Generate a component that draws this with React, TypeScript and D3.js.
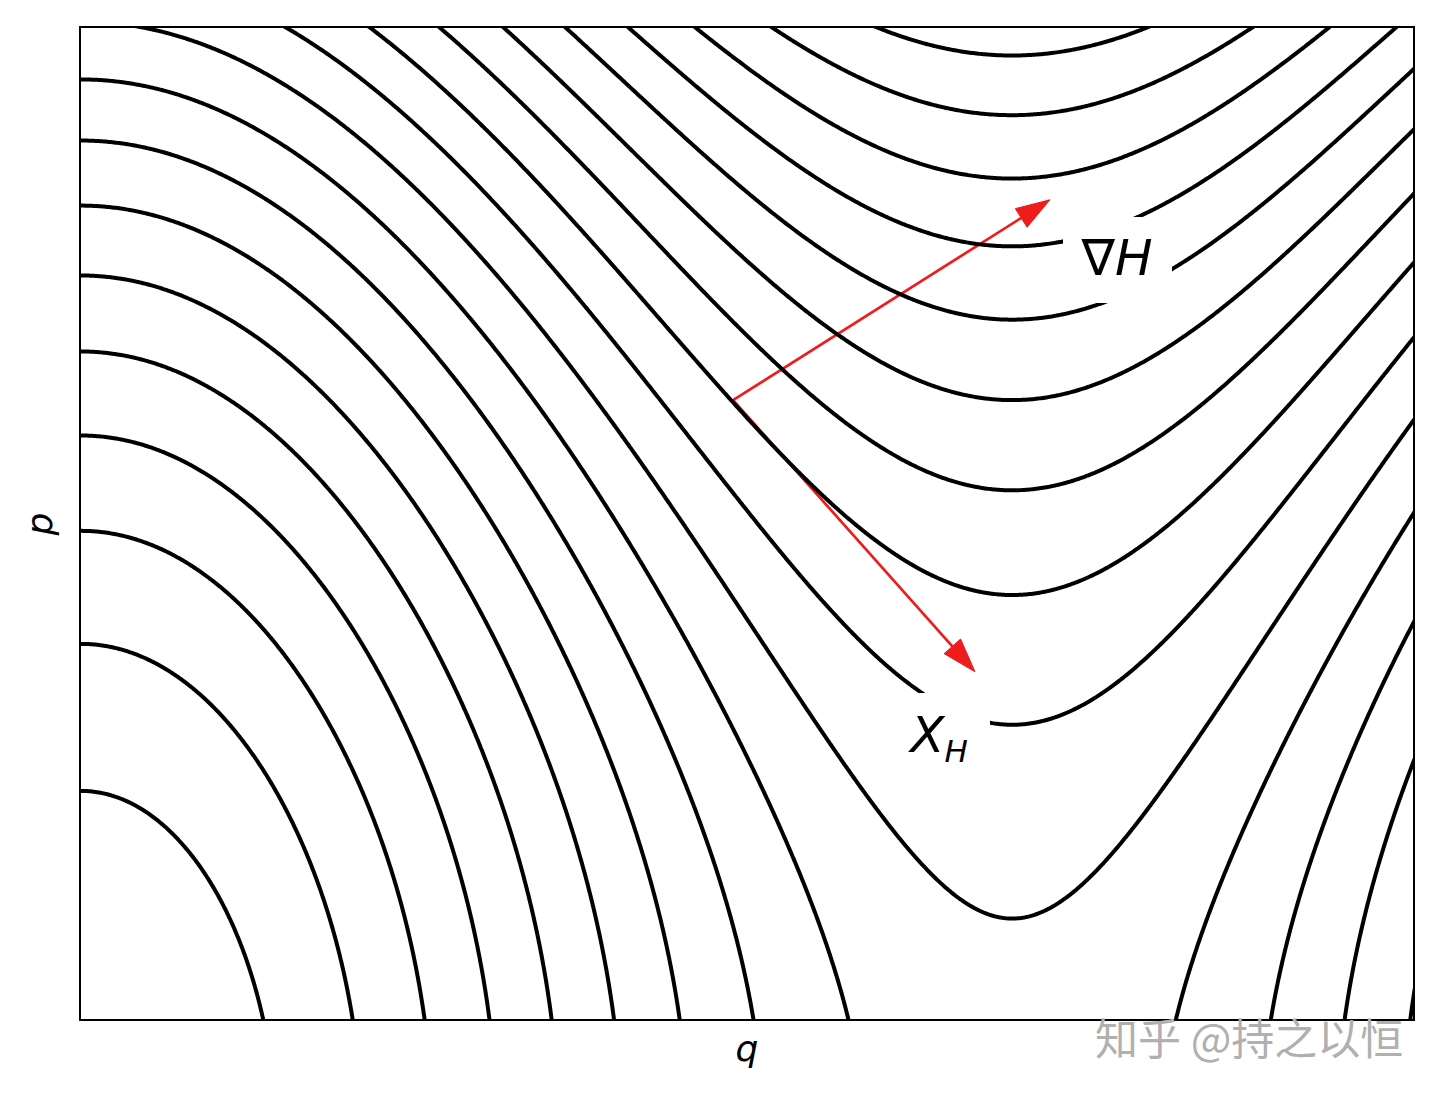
import React, { useMemo } from 'react';
import * as d3 from 'd3';

// Phase-space window (q horizontal, p vertical)
const qDomain = [0, 4.5];
const pDomain = [0.233, 2.032];

// Contour levels of the Hamiltonian H(q, p) = p^2/2 - cos(q)
const levels = [
  -0.789, -0.5805, -0.372, -0.1635, 0.045, 0.2535, 0.462, 0.6705, 0.879,
  1.0875, 1.296, 1.5045, 1.713, 1.9215, 2.13, 2.3385, 2.547, 2.7555, 2.964,
];

// Red vectors (data coordinates): common base point and the two tips
const arrowBase = [2.203, 1.356];
const arrowTips = [
  [3.272, 1.719], // grad H
  [3.019, 0.864], // X_H
];

// Text labels
const axisLabels = ['q', 'p'];
const watermark = '知乎 @持之以恒';

const W = 1440;
const H = 1100;
const plot = { left: 80, right: 1414, top: 27, bottom: 1020 };

const hamiltonian = (q: number, p: number) => (p * p) / 2 - Math.cos(q);

export default function App() {
  const x = d3.scaleLinear().domain(qDomain).range([plot.left, plot.right]);
  const y = d3.scaleLinear().domain(pDomain).range([plot.bottom, plot.top]);

  const paths = useMemo(() => {
    const nx = 820;
    const ny = 620;
    const qLo = qDomain[0] - 0.1;
    const qHi = qDomain[1] + 0.1;
    const pLo = pDomain[0] - 0.06;
    const pHi = pDomain[1] + 0.06;
    const values = new Float64Array(nx * ny);
    for (let j = 0; j < ny; j++) {
      const p = pHi - (j * (pHi - pLo)) / (ny - 1);
      for (let i = 0; i < nx; i++) {
        const q = qLo + (i * (qHi - qLo)) / (nx - 1);
        values[j * nx + i] = hamiltonian(q, p);
      }
    }
    const cs = d3.contours().size([nx, ny]).thresholds(levels)(values as any);
    const proj = d3.geoTransform({
      point(cx: number, cy: number) {
        const q = qLo + (cx * (qHi - qLo)) / (nx - 1);
        const p = pHi - (cy * (pHi - pLo)) / (ny - 1);
        (this as any).stream.point(x(q), y(p));
      },
    });
    const gp = d3.geoPath(proj);
    return cs.map((c) => gp(c as any) || '');
  }, []);

  const bx = x(arrowBase[0]);
  const by = y(arrowBase[1]);
  const headLen = 34;
  const headHalf = 11;

  const arrowEls = arrowTips.map((t, i) => {
    const tx = x(t[0]);
    const ty = y(t[1]);
    const dx = tx - bx;
    const dy = ty - by;
    const len = Math.hypot(dx, dy);
    const ux = dx / len;
    const uy = dy / len;
    const hx = tx - ux * headLen;
    const hy = ty - uy * headLen;
    const px = -uy * headHalf;
    const py = ux * headHalf;
    return (
      <g key={i}>
        <line x1={bx} y1={by} x2={hx + ux * 2} y2={hy + uy * 2} stroke="#ee1c1c" strokeWidth={2.7} />
        <polygon
          points={`${tx},${ty} ${hx + px},${hy + py} ${hx - px},${hy - py}`}
          fill="#ee1c1c"
          stroke="#ee1c1c"
          strokeWidth={1}
          strokeLinejoin="miter"
        />
      </g>
    );
  });

  return (
    <svg
      width={W}
      height={H}
      style={{ position: 'absolute', left: 0, top: 0, display: 'block', background: '#fff' }}
    >
      <defs>
        <clipPath id="plotClip">
          <rect x={plot.left} y={plot.top} width={plot.right - plot.left} height={plot.bottom - plot.top} />
        </clipPath>
      </defs>
      <rect x={0} y={0} width={W} height={H} fill="#fff" />
      <g clipPath="url(#plotClip)">
        {arrowEls}
        {paths.map((d, i) => (
          <path key={i} d={d} fill="none" stroke="#000" strokeWidth={4} strokeLinejoin="round" />
        ))}
        {/* label boxes (white background behind the labels) */}
        <rect x={1063} y={217} width={109} height={86} fill="#fff" />
        <rect x={888} y={693} width={102} height={90} fill="#fff" />
      </g>
      <text x={1117} y={275} textAnchor="middle" fontFamily="DejaVu Sans" fontSize={50} fill="#000">
        <tspan>∇</tspan>
        <tspan fontStyle="italic">H</tspan>
      </text>
      <text x={939} y={752} textAnchor="middle" fontFamily="DejaVu Sans" fontSize={50} fill="#000">
        <tspan fontStyle="italic">X</tspan>
        <tspan fontStyle="italic" fontSize={31} dy={10}>H</tspan>
      </text>
      <rect
        x={plot.left}
        y={plot.top}
        width={plot.right - plot.left}
        height={plot.bottom - plot.top}
        fill="none"
        stroke="#000"
        strokeWidth={2}
      />
      <text x={747} y={1061} textAnchor="middle" fontFamily="DejaVu Sans" fontStyle="italic" fontSize={36} fill="#000">
        {axisLabels[0]}
      </text>
      <text
        transform="translate(52,524) rotate(-90)"
        textAnchor="middle"
        fontFamily="DejaVu Sans"
        fontStyle="italic"
        fontSize={36}
        fill="#000"
      >
        {axisLabels[1]}
      </text>
      <text x={1095} y={1055} fontFamily="Noto Sans CJK SC" fontSize={43} fill="#b0b0b0">
        {watermark}
      </text>
    </svg>
  );
}
